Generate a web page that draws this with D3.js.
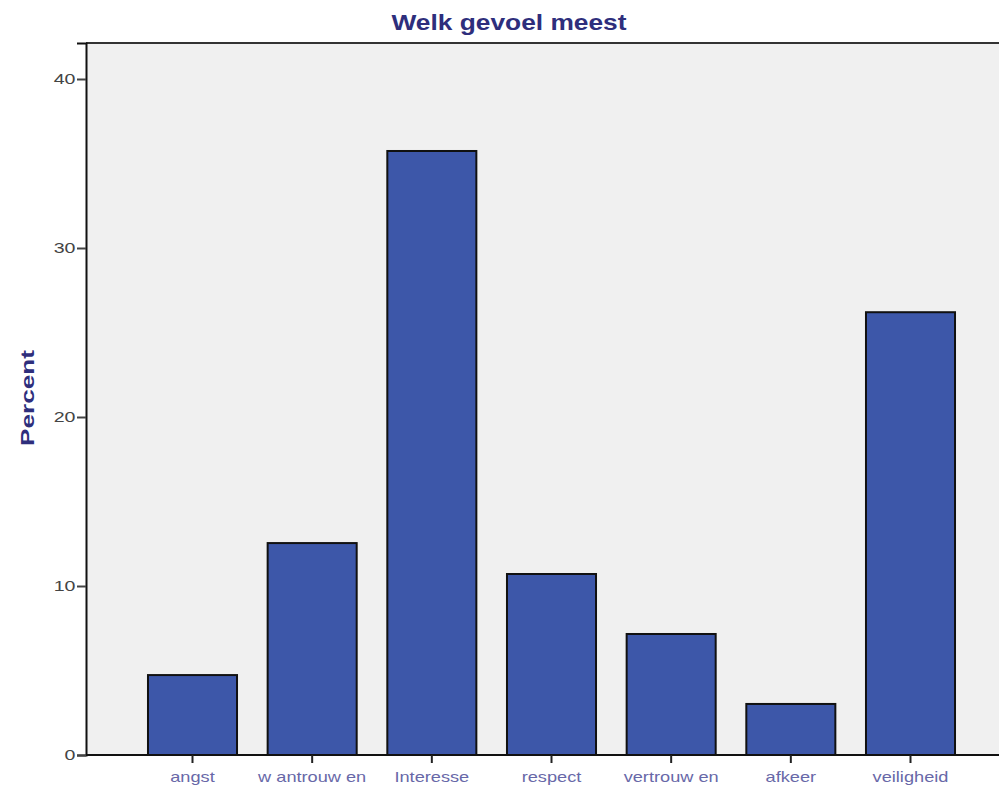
<!DOCTYPE html>
<html>
<head>
<meta charset="utf-8">
<script src="https://cdn.jsdelivr.net/npm/d3@7"></script>
<style>
html,body{margin:0;padding:0;background:#fff;}
svg{display:block;}
</style>
</head>
<body>
<svg id="chart" width="999" height="792"></svg>
<script>
const categories = ["angst","w antrouw en","Interesse","respect","vertrouw en","afkeer","veiligheid"];
const percents = [4.73, 12.54, 35.74, 10.71, 7.16, 3.02, 26.2];
const yTicks = [0, 10, 20, 30, 40];
const titleText = "Welk gevoel meest";
const yLabel = "Percent";

(function () {
const svg = d3.select("#chart");
const mLeft = 86, mRight = 1017, mTop = 43, mBottom = 755;

const x = d3.scaleBand().domain(categories).range([mLeft, mRight])
  .paddingInner(0.256).paddingOuter(0.518);
const y = d3.scaleLinear().domain([0, 42.13]).range([mBottom, mTop]);

// plot background
svg.append("rect").attr("x", mLeft).attr("y", mTop)
  .attr("width", 999 - mLeft).attr("height", mBottom - mTop)
  .attr("fill", "#f0f0f0");
// top border
svg.append("line").attr("x1", mLeft).attr("x2", 999).attr("y1", mTop).attr("y2", mTop)
  .attr("stroke", "#333").attr("stroke-width", 2);

// bars
svg.append("g").selectAll("rect").data(categories).join("rect")
  .attr("x", d => x(d)).attr("width", x.bandwidth())
  .attr("y", (d, i) => y(percents[i]))
  .attr("height", (d, i) => y(0) - y(percents[i]))
  .attr("fill", "#3d57a9").attr("stroke", "#111").attr("stroke-width", 2);

// y axis
const yAxis = svg.append("g").attr("transform", `translate(${mLeft},0)`)
  .call(d3.axisLeft(y).tickValues(yTicks).tickSize(9).tickPadding(2).tickFormat(d3.format("d")));
yAxis.select(".domain").attr("stroke", "#111").attr("stroke-width", 2);
yAxis.selectAll(".tick line").attr("stroke", "#444").attr("stroke-width", 2);
yAxis.selectAll(".tick text").attr("fill", "#444").attr("font-family", "Liberation Sans, Arial, sans-serif")
  .attr("font-size", 14).attr("x", -7.5).attr("transform", "scale(1.4,1)");

// x axis
const xAxis = svg.append("g").attr("transform", `translate(0,${mBottom})`)
  .call(d3.axisBottom(x).tickSize(8).tickPadding(9).tickSizeOuter(0));
xAxis.select(".domain").attr("stroke", "#111").attr("stroke-width", 2)
  .attr("d", `M${mLeft},0H999`);
xAxis.selectAll(".tick line").attr("stroke", "#222").attr("stroke-width", 2);
xAxis.selectAll(".tick text").attr("fill", "#6868a8").attr("font-family", "Liberation Sans, Arial, sans-serif")
  .attr("font-size", 14).attr("transform", "scale(1.3,1)");

// title
svg.append("text").attr("x", 509).attr("y", 30).attr("text-anchor", "middle")
  .attr("font-family", "Liberation Sans, Arial, sans-serif").attr("font-weight", "bold")
  .attr("font-size", 22).attr("fill", "#2e2e7c")
  .attr("textLength", 235).attr("lengthAdjust", "spacingAndGlyphs")
  .text(titleText);

// y label
svg.append("text").attr("transform", "translate(34,398) rotate(-90)").attr("text-anchor", "middle")
  .attr("font-family", "Liberation Sans, Arial, sans-serif").attr("font-weight", "bold")
  .attr("font-size", 19).attr("fill", "#2e2e7c")
  .attr("textLength", 96).attr("lengthAdjust", "spacingAndGlyphs")
  .text(yLabel);
})();
</script>
</body>
</html>
